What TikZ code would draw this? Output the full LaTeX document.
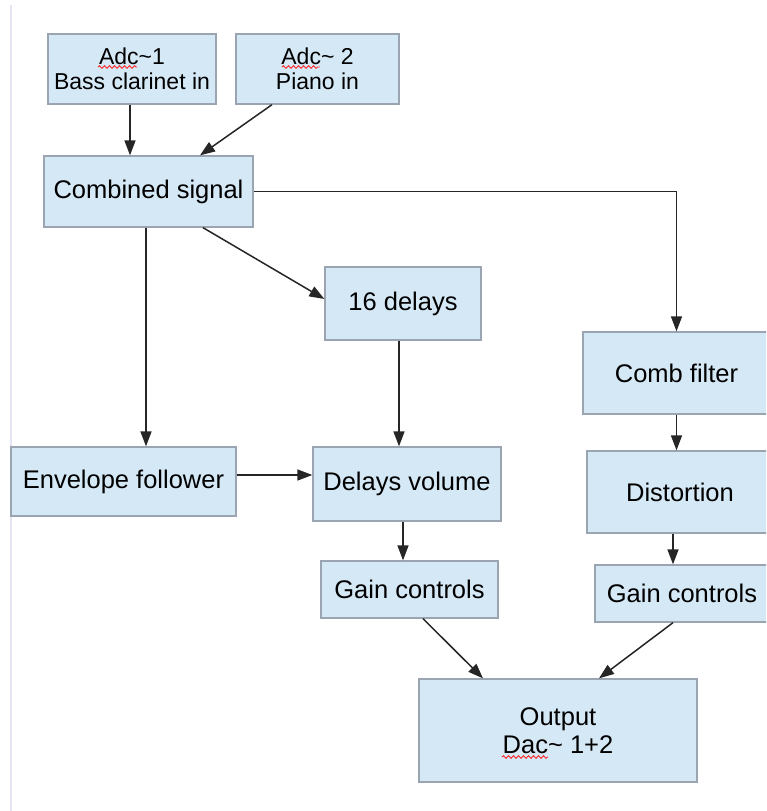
\documentclass[tikz,border=0pt]{standalone}
\usepackage{fontspec}
\setmainfont{Liberation Sans}
\usetikzlibrary{arrows.meta,calc,decorations.pathmorphing}
\definecolor{boxfill}{HTML}{D5E8F5}
\definecolor{boxline}{HTML}{9AA5B1}
\definecolor{sideline}{HTML}{E4E4F2}
\tikzset{
  blk/.style={draw=boxline, line width=1.3pt, fill=boxfill, inner sep=0pt, align=center,
     font=\fontsize{25.5}{28}\selectfont, text=black},
  blksmall/.style={blk, font=\fontsize{23}{25}\selectfont},
  arr/.style={draw=black!85, line width=1.5pt, -{Triangle[length=15pt,width=11pt]}},
  squig/.style={draw=red!85, line width=0.9pt, decorate, decoration={snake, amplitude=1.3pt, segment length=5pt}}
}
\begin{document}
\begin{tikzpicture}[x=1pt,y=-1pt]
\useasboundingbox (0,0) rectangle (766,811);
\clip (0,0) rectangle (766,811);
\fill[white] (0,0) rectangle (766,811);
\coordinate (sideTop) at (11,5);
\coordinate (sideBot) at (11,811);
\draw[sideline, line width=2pt] (sideTop) -- (sideBot);

\node[blksmall, minimum width=168pt, minimum height=70pt] (adc1) at (132,69) {Adc\textasciitilde1\\Bass clarinet in};
\node[blksmall, minimum width=163pt, minimum height=70pt] (adc2) at (317.5,69) {Adc\textasciitilde{} 2\\Piano in};
\node[blk, minimum width=209pt, minimum height=71pt] (comb) at (148.5,191.5) {Combined signal};
\node[blk, minimum width=156pt, minimum height=73pt] (del16) at (403,303.5) {16 delays};
\node[blk, minimum width=187pt, minimum height=82pt] (combf) at (676.5,373) {Comb filter};
\node[blk, minimum width=225pt, minimum height=69pt] (env) at (123.5,481.5) {Envelope follower};
\node[blk, minimum width=188pt, minimum height=74pt] (dvol) at (407,484) {Delays volume};
\node[blk, minimum width=186pt, minimum height=82pt] (dist) at (680,492) {Distortion};
\node[blk, minimum width=177pt, minimum height=57pt] (gainL) at (409.5,589.5) {Gain controls};
\node[blk, minimum width=174pt, minimum height=57pt] (gainR) at (682,593.5) {Gain controls};
\node[blk, minimum width=278pt, minimum height=103pt] (out) at (558,730.5) {Output\\Dac\textasciitilde{} 1+2};

% spell-check squiggles
\draw[squig] ($(adc1.center)+(-34,-2)$) -- ($(adc1.center)+(5,-2)$);
\draw[squig] ($(adc2.center)+(-35.5,-2)$) -- ($(adc2.center)+(2.5,-2)$);
\draw[squig] ($(out.center)+(-56,26.5)$) -- ($(out.center)+(-10,26.5)$);

% connectors
\draw[arr] ([xshift=-2pt]adc1.south) -- ([xshift=-2pt]adc1.south |- comb.north);
\draw[arr] ([xshift=-45.5pt]adc2.south) -- ([xshift=51.5pt]comb.north);
\draw[arr] (comb.east) -| (combf.north);
\draw[arr] ([xshift=54.5pt]comb.south) -- ([yshift=4.5pt]del16.west);
\draw[arr] ([xshift=-2.5pt]comb.south) -- ([xshift=-2.5pt]comb.south |- env.north);
\draw[arr] ([yshift=6.5pt]env.east) -- ([yshift=6.5pt]env.east -| dvol.west);
\draw[arr] ([xshift=-4pt]del16.south) -- ([xshift=-4pt]del16.south |- dvol.north);
\draw[arr] ([xshift=-4pt]dvol.south) -- ([xshift=-4pt]dvol.south |- gainL.north);
\draw[arr] (combf.south) -- (combf.south |- dist.north);
\draw[arr] ([xshift=-7pt]dist.south) -- ([xshift=-7pt]dist.south |- gainR.north);
\draw[arr] ([xshift=13.5pt]gainL.south) -- ([xshift=-75pt]out.north);
\draw[arr] ([xshift=-9pt]gainR.south) -- ([xshift=41pt]out.north);
\end{tikzpicture}
\end{document}
